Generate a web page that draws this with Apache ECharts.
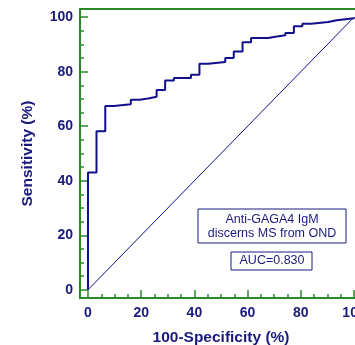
<!DOCTYPE html>
<html>
<head>
<meta charset="utf-8">
<script src="https://cdn.jsdelivr.net/npm/echarts@6/dist/echarts.min.js"></script>
<style>html,body{margin:0;padding:0;background:#fff;}#c{width:355px;height:345px;}</style>
</head>
<body>
<div id="c"></div>
<script>
// 100-Specificity (%) where sensitivity steps up, and the sensitivity reached
const fpr = [0, 0, 3.2, 6.5, 9.7, 16.1, 19.4, 22.6, 25.8, 29.0, 32.3, 38.7, 41.9, 45.2, 51.6, 54.8, 58.1, 61.3, 67.7, 71.0, 74.2, 77.4, 80.6, 83.9, 90.3, 93.5, 100];
const tpr = [0, 43.0, 58.2, 67.4, 68.1, 69.7, 70.2, 70.8, 73.3, 76.8, 77.7, 78.9, 82.9, 83.6, 85.0, 87.4, 90.8, 92.4, 92.9, 93.4, 94.2, 96.7, 97.6, 98.2, 98.9, 99.6, 100];
const diagX = [0, 100];
const diagY = [0, 100];
const majorTicks = [0, 20, 40, 60, 80, 100];
const minorTicks = [5, 10, 15, 25, 30, 35, 45, 50, 55, 65, 70, 75, 85, 90, 95];
const xTitle = '100-Specificity (%)';
const yTitle = 'Sensitivity (%)';
const boxLines = ['Anti-GAGA4 IgM', 'discerns MS from OND'];
const aucText = 'AUC=0.830';

const green = '#2a8a2a';
const navy = '#1a1a7e';
const lineNavy = '#10108a';
const font = '"Liberation Sans", Arial, sans-serif';

function mainAxis(isX) {
  return {
    type: 'value', min: -3, max: 103,
    position: isX ? 'bottom' : 'left',
    axisLine: { show: true, onZero: false, lineStyle: { color: green, width: 2 } },
    axisTick: { show: true, inside: true, length: 8, customValues: majorTicks, lineStyle: { color: green, width: 1.5 } },
    axisLabel: { show: true, customValues: majorTicks, color: navy, fontWeight: 'bold', fontSize: 14, fontFamily: font, margin: isX ? 8 : 7 },
    splitLine: { show: false },
    name: isX ? xTitle : yTitle,
    nameLocation: 'middle',
    nameGap: isX ? 32 : 44,
    nameTextStyle: { color: navy, fontWeight: 'bold', fontSize: 15.5, fontFamily: font }
  };
}
function minorAxis(isX) {
  return {
    type: 'value', min: -3, max: 103,
    position: isX ? 'bottom' : 'left',
    axisLine: { show: false, onZero: false },
    axisTick: { show: true, inside: true, length: 4, customValues: minorTicks, lineStyle: { color: green, width: 1.5 } },
    axisLabel: { show: false },
    splitLine: { show: false }
  };
}

const chart = echarts.init(document.getElementById('c'), null, { renderer: 'canvas' });
chart.setOption({
  animation: false,
  backgroundColor: '#fff',
  grid: { left: 80, top: 9, width: 282, height: 289, show: true, borderColor: green, borderWidth: 2, backgroundColor: 'transparent', containLabel: false, outerBoundsMode: 'none' },
  xAxis: [mainAxis(true), minorAxis(true)],
  yAxis: [mainAxis(false), minorAxis(false)],
  series: [
    {
      type: 'line', xAxisIndex: 0, yAxisIndex: 0,
      data: diagX.map((x, i) => [x, diagY[i]]),
      showSymbol: false, symbol: 'none',
      lineStyle: { color: lineNavy, width: 1 }
    },
    {
      type: 'line', xAxisIndex: 0, yAxisIndex: 0, step: 'end',
      data: fpr.map((x, i) => [x, tpr[i]]),
      showSymbol: false, symbol: 'none',
      lineStyle: { color: lineNavy, width: 2 }
    }
  ],
  graphic: [
    { type: 'rect', shape: { x: 198, y: 209, width: 148, height: 34 }, style: { fill: '#fff', stroke: navy, lineWidth: 1 }, z: 100 },
    { type: 'text', x: 272, y: 220, style: { text: boxLines[0], fill: navy, font: '12.5px ' + font, align: 'center', verticalAlign: 'middle' }, z: 101 },
    { type: 'text', x: 272, y: 234, style: { text: boxLines[1], fill: navy, font: '12.5px ' + font, align: 'center', verticalAlign: 'middle' }, z: 101 },
    { type: 'rect', shape: { x: 231, y: 252, width: 81, height: 18 }, style: { fill: '#fff', stroke: navy, lineWidth: 1 }, z: 100 },
    { type: 'text', x: 272, y: 261, style: { text: aucText, fill: navy, font: '12.5px ' + font, align: 'center', verticalAlign: 'middle' }, z: 101 }
  ]
});
</script>
</body>
</html>
